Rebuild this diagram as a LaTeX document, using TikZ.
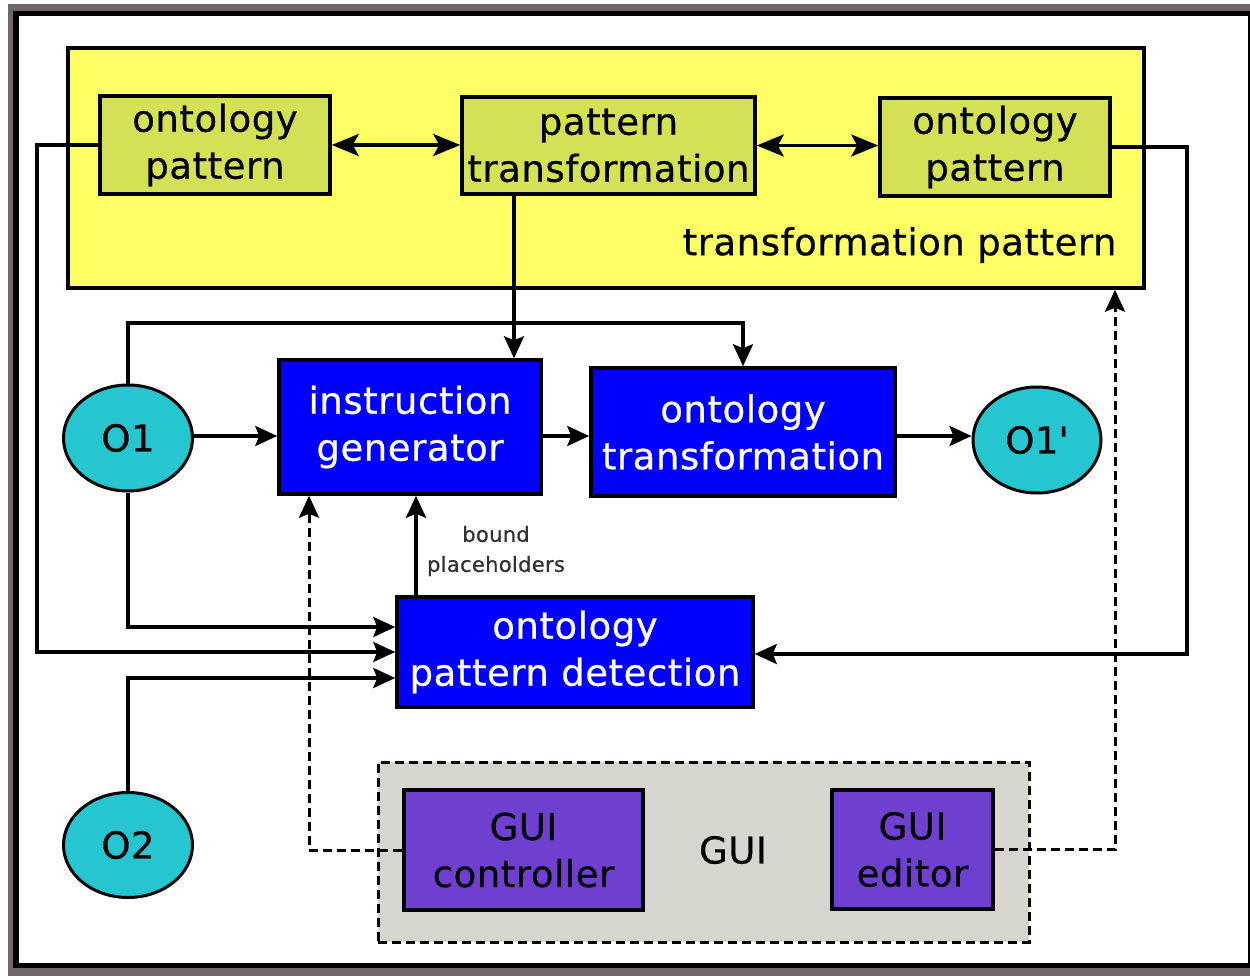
\documentclass[tikz,border=0pt]{standalone}
\usepackage{fontspec}
\setmainfont[LetterSpace=1.5,FakeBold=0.6]{DejaVu Sans}
\usetikzlibrary{arrows.meta,shapes.geometric}
\definecolor{framegray}{HTML}{706868}
\definecolor{patyellow}{HTML}{FFFF66}
\definecolor{patgreen}{HTML}{D4E157}
\definecolor{procblue}{HTML}{0000FF}
\definecolor{ontocyan}{HTML}{26C6D0}
\definecolor{guipurple}{HTML}{6F3FCF}
\definecolor{guigray}{HTML}{D6D6CE}
\definecolor{labelgray}{HTML}{333333}
\tikzset{
  sz/.style 2 args={minimum width=#1pt,minimum height=#2pt},
  big/.style={font=\fontsize{37}{47}\selectfont},
  basebox/.style={draw=black,line width=3.5pt,inner sep=0pt,align=center,big},
  patbox/.style={basebox,fill=patgreen},
  procbox/.style={basebox,fill=procblue,text=white},
  guibox/.style={basebox,fill=guipurple},
  onto/.style={ellipse,draw=black,line width=3pt,fill=ontocyan,inner sep=0pt,big},
  conn/.style={line width=3.5pt,draw=black},
  tip/.style={-{Stealth[length=22pt,width=20pt,inset=4pt]}},
  bitip/.style={{Stealth[length=27pt,width=22pt,inset=6pt]}-{Stealth[length=27pt,width=22pt,inset=6pt]}},
  dashconn/.style={conn,line width=3pt,dash pattern=on 9pt off 5pt},
}
\begin{document}
\begin{tikzpicture}[x=1pt,y=-1pt]
\useasboundingbox (0,0) rectangle (1250,976);
% window frame
\fill[framegray] (8,4) rectangle (1250,976);
\fill[black] (13,11) rectangle (1250,968);
\fill[white] (19,16) rectangle (1248,963);

% transformation pattern container
\node[draw=black,line width=3.5pt,fill=patyellow,sz={1076}{240}] (tp) at (606,168) {};
\node[big,anchor=east] (tplabel) at (1120,245) {transformation pattern};
\node[patbox,sz={230}{98}] (opl) at (215,145) {ontology\\pattern};
\node[patbox,sz={293}{97}] (ptr) at (608.5,145.5) {pattern\\transformation};
\node[patbox,sz={230}{98}] (opr) at (995,147) {ontology\\pattern};

% GUI container
\node[draw=black,line width=3pt,dash pattern=on 9pt off 5pt,fill=guigray,sz={651}{180}] (gui) at (703.5,852) {};
\node[big] (guilabel) at (733,850) {GUI};
\node[guibox,sz={239}{120}] (guic) at (523.5,850) {GUI\\controller};
\node[guibox,sz={161}{119}] (guie) at (912.5,849.5) {GUI\\editor};

% processing steps
\node[procbox,sz={262}{134}] (ig) at (410,427) {instruction\\generator};
\node[procbox,sz={304}{128}] (ot) at (743,432) {ontology\\transformation};
\node[procbox,sz={356}{110}] (opd) at (575,652) {ontology\\pattern detection};

% ontologies
\node[onto,sz={129}{106}] (o1) at (128,438) {O1};
\node[onto,sz={128}{106}] (o1p) at (1037,440) {O1\textquotesingle};
\node[onto,sz={129}{105}] (o2) at (128,845) {O2};

% routing helpers
\coordinate (row) at (0,436);
\coordinate (rail) at (0,323);
\coordinate (ptrx) at (514,0);
\coordinate (bx) at (416,0);
\coordinate (lx) at (37,0);
\coordinate (rx) at (1187,0);
\coordinate (r1) at (0,627);
\coordinate (r2) at (0,652);
\coordinate (r3) at (0,678);
\coordinate (r4) at (0,654);
\coordinate (dlx) at (309,0);
\coordinate (drx) at (1115,0);

% connectors
\draw[conn,bitip] (opl.east) -- (ptr.west |- opl.east);
\draw[conn,bitip] (ptr.east) -- (opr.west |- ptr.east);
\draw[conn,tip] (ptr.south -| ptrx) -- (ig.north -| ptrx);
\draw[conn,tip] (o1.north) -- (o1.north |- rail) -| (ot.north);
\draw[conn,tip] (o1.east |- row) -- (ig.west |- row);
\draw[conn,tip] (ig.east |- row) -- (ot.west |- row);
\draw[conn,tip] (ot.east |- row) -- (o1p.west |- row);
\draw[conn,tip] (opd.north -| bx) -- (ig.south -| bx);
\node[align=center,text=labelgray,font=\fontsize{21}{30}\selectfont] (bplabel) at (496,551) {bound\\placeholders};
\draw[conn,tip] (o1.south) |- (opd.west |- r1);
\draw[conn,tip] (opl.west) -- (opl.west -| lx) |- (opd.west |- r2);
\draw[conn,tip] (o2.north) |- (opd.west |- r3);
\draw[conn,tip] (opr.east) -- (opr.east -| rx) |- (opd.east |- r4);
\draw[dashconn,tip] (guic.west) -- (guic.west -| dlx) -- (ig.south -| dlx);
\draw[dashconn,tip] (guie.east) -- (guie.east -| drx) -- (tp.south -| drx);
\end{tikzpicture}
\end{document}
